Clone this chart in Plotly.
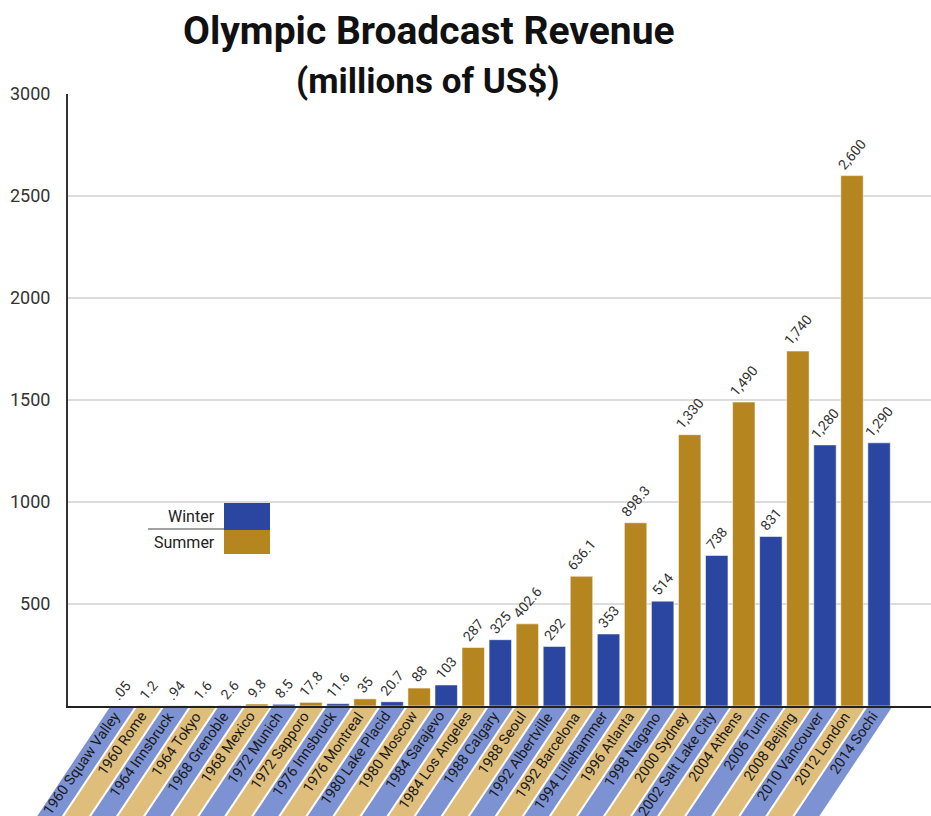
import plotly.graph_objects as go

# ---------------- data ----------------
categories = [
    "1960 Squaw Valley", "1960 Rome", "1964 Innsbruck", "1964 Tokyo",
    "1968 Grenoble", "1968 Mexico", "1972 Munich", "1972 Sapporo",
    "1976 Innsbruck", "1976 Montreal", "1980 Lake Placid", "1980 Moscow",
    "1984 Sarajevo", "1984 Los Angeles", "1988 Calgary", "1988 Seoul",
    "1992 Albertville", "1992 Barcelona", "1994 Lillehammer", "1996 Atlanta",
    "1998 Nagano", "2000 Sydney", "2002 Salt Lake City", "2004 Athens",
    "2006 Turin", "2008 Beijing", "2010 Vancouver", "2012 London", "2014 Sochi",
]
values = [
    0.05, 1.2, 0.94, 1.6, 2.6, 9.8, 8.5, 17.8, 11.6, 35, 20.7, 88, 103, 287,
    325, 402.6, 292, 636.1, 353, 898.3, 514, 1330, 738, 1490, 831, 1740, 1280,
    2600, 1290,
]
value_labels = [
    ".05", "1.2", ".94", "1.6", "2.6", "9.8", "8.5", "17.8", "11.6", "35",
    "20.7", "88", "103", "287", "325", "402.6", "292", "636.1", "353", "898.3",
    "514", "1,330", "738", "1,490", "831", "1,740", "1,280", "2,600", "1,290",
]
# colour group of each bar as drawn in the chart
bar_group = [
    "Winter", "Summer", "Winter", "Summer", "Winter", "Summer", "Winter",
    "Summer", "Winter", "Summer", "Winter", "Summer", "Winter", "Summer",
    "Winter", "Summer", "Winter", "Summer", "Winter", "Summer", "Winter",
    "Summer", "Winter", "Summer", "Winter", "Summer", "Winter", "Summer",
    "Winter",
]
y_ticks = [500, 1000, 1500, 2000, 2500, 3000]
legend_items = ["Winter", "Summer"]

# ---------------- styles ----------------
BAR_COLOR = {"Winter": "#2a46a0", "Summer": "#b5861f"}
STRIPE_COLOR = {"Winter": "#7d92d3", "Summer": "#dfbd7a"}
FONT = "Roboto"

W, H = 931, 816
ML, MR, MT, MB = 68, 0, 94, 110
PW, PH = W - ML - MR, H - MT - MB
X0, X1 = -1.98, 29.92
UNIT = PW / (X1 - X0)


def px_x(i):
    return ML + (i - X0) * UNIT


def paper_x(px):
    return (px - ML) / PW


def paper_y(py):
    return (H - MB - py) / PH


x_idx = list(range(len(categories)))

fig = go.Figure()
fig.add_trace(go.Bar(
    x=x_idx,
    y=values,
    marker=dict(color=[BAR_COLOR[g] for g in bar_group],
                line=dict(color="rgba(255,255,255,0.55)", width=1)),
    width=0.83,
    text=value_labels,
    textposition="outside",
    textangle=-50,
    constraintext="none",
    cliponaxis=False,
    textfont=dict(family=FONT, size=14, color="#333333"),
    hoverinfo="x+y",
    showlegend=False,
))

shapes = []
annotations = []

# slanted label stripes below the axis
slope = 1.0 / 1.5  # horizontal shift per vertical pixel
top_py, bot_py = 708, 850
half = 12.3
for i, (cat, g) in enumerate(zip(categories, bar_group)):
    cx = px_x(i)
    shift = (bot_py - top_py) * slope
    pts = [
        (cx - half, top_py), (cx + half, top_py),
        (cx + half - shift, bot_py), (cx - half - shift, bot_py),
    ]
    path = "M " + " L ".join(f"{paper_x(a):.5f},{paper_y(b):.5f}" for a, b in pts) + " Z"
    shapes.append(dict(type="path", xref="paper", yref="paper", path=path,
                       fillcolor=STRIPE_COLOR[g], line=dict(width=0), layer="above"))
    annotations.append(dict(
        x=paper_x(cx + 5), y=paper_y(706), xref="paper", yref="paper",
        text=cat, showarrow=False, textangle=-55,
        xanchor="right", yanchor="top",
        font=dict(family=FONT, size=14.5, color="#1a1a1a"),
    ))

# custom legend
box_l, box_r = 224, 270
rows = [(503, 530), (530, 554)]
for name, (t, b) in zip(legend_items, rows):
    shapes.append(dict(type="rect", xref="paper", yref="paper",
                       x0=paper_x(box_l), x1=paper_x(box_r),
                       y0=paper_y(b), y1=paper_y(t),
                       fillcolor=BAR_COLOR[name], line=dict(width=0)))
    annotations.append(dict(
        x=paper_x(217), y=paper_y((t + b) / 2), xref="paper", yref="paper",
        text=name, showarrow=False, xanchor="right", yanchor="middle",
        font=dict(family=FONT, size=16, color="#222222"),
    ))
shapes.append(dict(type="line", xref="paper", yref="paper",
                   x0=paper_x(148), x1=paper_x(box_l),
                   y0=paper_y(529), y1=paper_y(529),
                   line=dict(color="#444444", width=1)))

# title
TITLE_FONT = "Roboto"
annotations.append(dict(
    x=paper_x(429), y=paper_y(31), xref="paper", yref="paper",
    text="<b>Olympic Broadcast Revenue</b>", showarrow=False,
    xanchor="center", yanchor="middle",
    font=dict(family=TITLE_FONT, size=39, color="#111111"),
))
annotations.append(dict(
    x=paper_x(428), y=paper_y(81), xref="paper", yref="paper",
    text="<b>(millions of US$)</b>", showarrow=False,
    xanchor="center", yanchor="middle",
    font=dict(family=TITLE_FONT, size=35, color="#111111"),
))

fig.update_layout(
    width=W, height=H,
    margin=dict(l=ML, r=MR, t=MT, b=MB, pad=0),
    paper_bgcolor="white", plot_bgcolor="white",
    shapes=shapes, annotations=annotations,
    showlegend=False,
    xaxis=dict(range=[X0, X1], showticklabels=False, showgrid=False,
               zeroline=False, showline=True, linecolor="#222222",
               linewidth=2, ticks=""),
    yaxis=dict(range=[0, 3000], tickvals=y_ticks,
               ticktext=[str(v) for v in y_ticks],
               showgrid=True, gridcolor="#dcdcdc", gridwidth=2,
               zeroline=False, showline=True, linecolor="#333333",
               linewidth=2, ticks="", ticklabelstandoff=12,
               tickfont=dict(family=FONT, size=18, color="#333333")),
)

fig.write_html("out.html")
